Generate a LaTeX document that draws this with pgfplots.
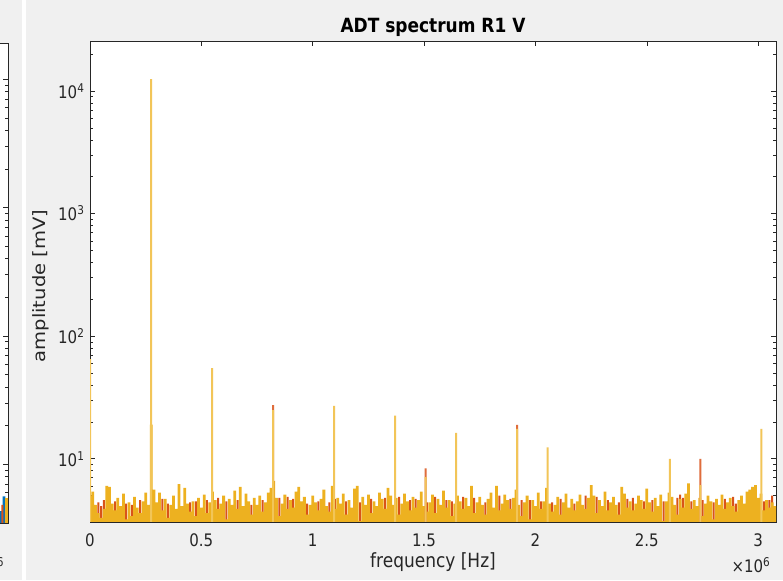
\documentclass[border=0pt]{standalone}
\usepackage{fontspec}
\setmainfont{DejaVu Sans}
\usepackage{graphicx}
\usepackage{pgfplots}
\pgfplotsset{compat=1.18}

\definecolor{mlblue}{HTML}{0072BD}
\definecolor{mlred}{HTML}{D95319}
\definecolor{mlyellow}{HTML}{EDB120}
\definecolor{axgray}{HTML}{262626}
\definecolor{figbg}{HTML}{F0F0F0}

% text in this figure is drawn 15% taller than wide
\newcommand{\vs}[1]{\scalebox{1}[1.15]{#1}}
\newcommand{\hs}[1]{\scalebox{1.15}[1]{#1}}

\pgfplotsset{
  every axis/.append style={
    scale only axis, anchor=south west,
    width=686pt, height=481pt,
    xmin=0, xmax=3.08,
    clip mode=individual,
    axis background/.style={fill=white},
    axis line style={axgray, line width=0.8pt},
    tick align=inside,
    major tick length=5pt, minor tick length=3pt,
    every tick/.style={axgray, line width=0.6pt},
    tick label style={font=\fontsize{15}{18}\selectfont, text=axgray},
    xtick={0,0.5,1,1.5,2,2.5,3},
    xticklabels={\vs{0},\vs{0.5},\vs{1},\vs{1.5},\vs{2},\vs{2.5},\vs{3}},
    ytick={10,100,1000,10000},
    yticklabels={\vs{10\textsuperscript{1}},\vs{10\textsuperscript{2}},\vs{10\textsuperscript{3}},\vs{10\textsuperscript{4}}},
    minor ytick={4,5,6,7,8,9,20,30,40,50,60,70,80,90,200,300,400,500,600,700,800,900,2000,3000,4000,5000,6000,7000,8000,9000,20000},
    xticklabel style={anchor=base, yshift=-25pt},
    yticklabel style={xshift=-2pt},
  },
  noisebar/.style={ybar, bar shift=0pt, bar width=0.0125, draw=none, fill=#1},
  narrowbar/.style={ybar, bar shift=0pt, bar width=0.009, draw=none, fill=#1},
  spikebar/.style={ybar, bar shift=0pt, bar width=0.009, draw=none, fill=#1},
}

\begin{document}
\begin{tikzpicture}[x=1pt,y=1pt]
\useasboundingbox (0,0) rectangle (783,580);
\clip (0,0) rectangle (783,580);
\fill[figbg] (0,0) rectangle (783,580);
\fill[white] (22,0) rectangle (26,580);

% neighbouring panel (only its right edge is in view)
\begin{axis}[ymode=log, at={(-678pt,57pt)}, height=480pt, ymin=3.47, ymax=19200,
  xticklabels={}, yticklabels={}]
\addplot[noisebar=mlblue] coordinates {(3.0375,5.2) (3.05,4.3) (3.0625,5.6)};
\addplot[narrowbar=mlred] coordinates {(3.055,4.8) (3.07,4.4)};
\addplot[noisebar=mlyellow] coordinates {(3.075,5.4)};
\node[anchor=base east, font=\fontsize{15}{18}\selectfont, text=axgray]
  at (axis description cs:0.9995,-0.104) {\vs{×10\textsuperscript{6}}};
\end{axis}

% main spectrum panel
\begin{axis}[ymode=log, at={(90pt,58pt)},
  ymin=3.05, ymax=25600,
  title={\vs{ADT spectrum R1 V}},
  title style={font=\fontsize{17}{20}\selectfont\bfseries, at={(axis description cs:0.5,1.0062)}, anchor=base},
  xlabel={\vs{frequency [Hz]}},
  xlabel style={font=\fontsize{17}{20}\selectfont, text=axgray, at={(axis description cs:0.5,-0.0956)}, anchor=base},
  ylabel={\hs{amplitude [mV]}},
  ylabel style={font=\fontsize{17}{20}\selectfont, text=axgray, at={(axis description cs:-0.0656,0.4906)}, anchor=base},
]
% R1 V, second trace: where it rises above the third trace
\addplot[narrowbar=mlred] coordinates {
(0.0375,4.4) (0.05,4.1) (0.0625,4.6) (0.1125,4.5) (0.1625,4.3) (0.1875,4.2)
(0.225,4.6) (0.325,4.7) (0.35,4.3) (0.45,4.4) (0.475,4.5) (0.525,4.6)
(0.575,4.8) (0.6125,4.5) (0.6625,4.6) (0.725,4.2) (0.775,4.6) (0.85,4.8)
(0.8875,4.9) (0.9125,4.7) (0.975,4.3) (1.025,4.5) (1.075,4.4) (1.1,4.7)
(1.15,4.5) (1.2125,4.4) (1.2625,4.7) (1.325,4.8) (1.3875,4.9) (1.4375,4.6)
(1.4625,4.7) (1.5125,4.4) (1.55,4.9) (1.6,4.6) (1.625,4.5) (1.675,4.9)
(1.725,4.8) (1.775,4.4) (1.8375,5.0) (1.8875,4.7) (1.9375,4.6) (1.975,4.6)
(2.025,4.5) (2.075,4.4) (2.1125,4.7) (2.175,4.3) (2.225,5.0) (2.275,4.9)
(2.325,4.6) (2.375,4.4) (2.4125,4.7) (2.4375,4.8) (2.4875,4.5) (2.525,4.6)
(2.575,4.5) (2.6375,4.8) (2.65,5.1) (2.6625,4.8) (2.7,4.5) (2.75,4.6)
(2.8,4.4) (2.85,4.7) (2.8875,4.9) (2.9,4.3) (3.025,4.5) (3.05,4.6) (3.0625,5.0)
};
% third trace, noise floor
\addplot[noisebar=mlyellow] coordinates {
(0,5.0) (0.0125,5.4) (0.025,4.2) (0.0375,3.6) (0.05,3.3) (0.0625,3.9) (0.075,6.0) (0.0875,5.9)
(0.1,4.3) (0.1125,3.8) (0.125,4.8) (0.1375,4.1) (0.15,5.2) (0.1625,3.2) (0.175,4.4) (0.1875,3.4)
(0.2,4.9) (0.2125,4.0) (0.225,3.6) (0.2375,4.5) (0.25,5.3) (0.2625,4.2) (0.275,19.0) (0.2875,5.6)
(0.3,4.4) (0.3125,5.3) (0.325,3.8) (0.3375,4.7) (0.35,3.3) (0.3625,4.2) (0.375,5.0) (0.3875,3.9)
(0.4,6.2) (0.4125,4.1) (0.425,5.8) (0.4375,4.3) (0.45,3.7) (0.4625,4.5) (0.475,3.4) (0.4875,4.8)
(0.5,4.0) (0.5125,5.1) (0.525,3.6) (0.5375,4.4) (0.55,5.4) (0.5625,4.6) (0.575,3.9) (0.5875,4.3)
(0.6,5.0) (0.6125,3.2) (0.625,4.7) (0.6375,4.2) (0.65,5.5) (0.6625,3.9) (0.675,5.9) (0.6875,4.1)
(0.7,5.2) (0.7125,4.5) (0.725,3.5) (0.7375,4.8) (0.75,4.2) (0.7625,5.0) (0.775,3.7) (0.7875,4.4)
(0.8,5.3) (0.8125,5.8) (0.825,6.6) (0.8375,4.8) (0.85,3.4) (0.8625,4.3) (0.875,5.1) (0.8875,3.9)
(0.9,4.6) (0.9125,4.0) (0.925,5.4) (0.9375,5.9) (0.95,4.5) (0.9625,4.9) (0.975,3.5) (0.9875,4.2)
(1.0,5.0) (1.0125,4.4) (1.025,3.8) (1.0375,4.7) (1.05,5.6) (1.0625,4.1) (1.075,3.7) (1.0875,6.0)
(1.1,3.9) (1.1125,4.8) (1.125,4.3) (1.1375,5.2) (1.15,3.5) (1.1625,4.6) (1.175,4.0) (1.1875,5.7)
(1.2,6.0) (1.2125,3.1) (1.225,4.9) (1.2375,4.2) (1.25,5.1) (1.2625,3.6) (1.275,4.5) (1.2875,4.1)
(1.3,5.3) (1.3125,4.7) (1.325,3.9) (1.3375,5.8) (1.35,5.0) (1.3625,4.2) (1.375,4.8) (1.3875,3.5)
(1.4,4.3) (1.4125,5.2) (1.425,4.5) (1.4375,3.8) (1.45,4.9) (1.4625,4.0) (1.475,4.6) (1.4875,5.4)
(1.5,4.1) (1.5125,3.7) (1.525,4.4) (1.5375,5.1) (1.55,3.6) (1.5625,4.7) (1.575,4.2) (1.5875,5.5)
(1.6,4.0) (1.6125,4.6) (1.625,3.4) (1.6375,4.3) (1.65,5.0) (1.6625,4.5) (1.675,3.9) (1.6875,4.8)
(1.7,4.1) (1.7125,6.0) (1.725,3.6) (1.7375,4.4) (1.75,4.9) (1.7625,4.2) (1.775,3.5) (1.7875,4.7)
(1.8,5.3) (1.8125,4.0) (1.825,6.0) (1.8375,3.8) (1.85,4.3) (1.8625,5.1) (1.875,4.6) (1.8875,3.9)
(1.9,4.8) (1.9125,5.6) (1.925,4.2) (1.9375,3.4) (1.95,4.4) (1.9625,5.0) (1.975,3.2) (1.9875,4.6)
(2.0,4.1) (2.0125,5.3) (2.025,3.9) (2.0375,4.5) (2.05,5.8) (2.0625,4.3) (2.075,3.7) (2.0875,4.2)
(2.1,4.9) (2.1125,3.5) (2.125,4.4) (2.1375,5.2) (2.15,4.0) (2.1625,4.7) (2.175,3.8) (2.1875,4.5)
(2.2,5.1) (2.2125,4.2) (2.225,3.9) (2.2375,4.8) (2.25,6.1) (2.2625,5.0) (2.275,3.6) (2.2875,4.6)
(2.3,4.1) (2.3125,5.4) (2.325,3.8) (2.3375,4.4) (2.35,4.9) (2.3625,4.2) (2.375,3.5) (2.3875,5.9)
(2.4,5.2) (2.4125,4.0) (2.425,4.5) (2.4375,3.8) (2.45,4.3) (2.4625,5.0) (2.475,4.6) (2.4875,3.9)
(2.5,5.7) (2.5125,4.4) (2.525,3.7) (2.5375,4.8) (2.55,4.1) (2.5625,5.1) (2.575,3.1) (2.5875,4.5)
(2.6,5.3) (2.6125,4.9) (2.625,4.2) (2.6375,3.5) (2.65,4.7) (2.6625,4.0) (2.675,5.2) (2.6875,6.3)
(2.7,3.9) (2.7125,4.6) (2.725,4.1) (2.7375,4.8) (2.75,3.4) (2.7625,4.3) (2.775,5.0) (2.7875,4.5)
(2.8,3.2) (2.8125,4.7) (2.825,4.2) (2.8375,5.1) (2.85,3.9) (2.8625,4.4) (2.875,4.8) (2.8875,4.1)
(2.9,3.7) (2.9125,4.6) (2.925,5.0) (2.9375,4.3) (2.95,5.4) (2.9625,5.6) (2.975,5.9) (2.9875,6.1)
(3.0,4.8) (3.0125,5.2) (3.025,3.8) (3.0375,4.6) (3.05,4.0) (3.0625,4.4) (3.075,4.1)
};
% harmonic lines, second trace
\addplot[spikebar=mlred!85!white] coordinates {
(0.822,27.4) (1.507,8.35) (1.918,18.9) (2.740,10.0)
};
% harmonic lines, third trace
\addplot[spikebar=mlyellow!75!white] coordinates {
(0,65) (0.274,12500) (0.548,55) (0.822,25) (1.096,27) (1.370,22.5) (1.507,7.1)
(1.644,16.3) (1.918,17.5) (2.055,12.4) (2.603,10.0) (2.740,6.1) (3.014,17.5)
};
\node[anchor=base east, font=\fontsize{15}{18}\selectfont, text=axgray]
  at (axis description cs:0.997,-0.106) {\vs{×10\textsuperscript{6}}};
\end{axis}
\end{tikzpicture}
\end{document}
